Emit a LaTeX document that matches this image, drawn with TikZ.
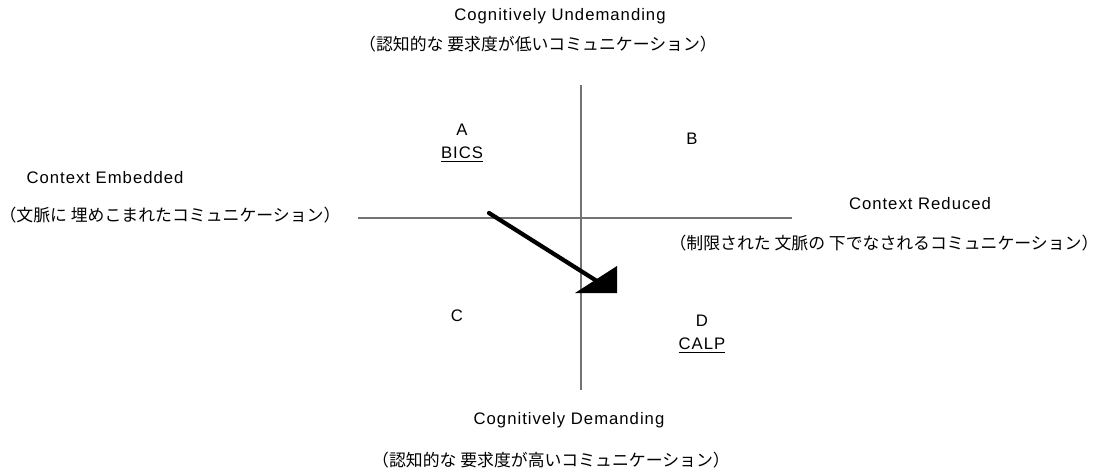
\documentclass[tikz,border=0pt]{standalone}
\usepackage{fontspec}
\setmainfont[LetterSpace=6]{Liberation Sans}
\newfontfamily\jpfont{Noto Sans CJK JP}
\begin{document}
\begin{tikzpicture}[x=0.02cm, y=-0.02cm, every node/.style={font=\fontsize{9.5}{11}\selectfont, inner sep=1pt},
  axis/.style={draw=gray!90!black, line width=0.6pt},
  jp/.style={font=\fontsize{9.6}{11}\selectfont\jpfont},
  quad/.style={font=\fontsize{9.5}{11}\selectfont, align=center}]
  \useasboundingbox (0,0) rectangle (1107,474);
  % axes
  \coordinate (top) at (581,85);
  \coordinate (bot) at (581,390);
  \coordinate (left) at (358,218);
  \coordinate (right) at (792,218);
  \draw[axis] (top) -- (bot);
  \draw[axis] (left) -- (right);
  % axis labels
  \node (undem) at (560,16) {Cognitively Undemanding};
  \node[jp] (undemjp) at (538,44) {（認知的な 要求度が低いコミュニケーション）};
  \node (dem) at (569,420) {Cognitively Demanding};
  \node[jp] (demjp) at (551,460) {（認知的な 要求度が高いコミュニケーション）};
  \node (emb) at (105,178) {Context Embedded};
  \node[jp] (embjp) at (170,215) {（文脈に 埋めこまれたコミュニケーション）};
  \node (red) at (920,204) {Context Reduced};
  \node[jp] (redjp) at (884,243) {（制限された 文脈の 下でなされるコミュニケーション）};
  % quadrants
  \node[quad] (qa) at (462,143) {A\\[2pt]\underline{BICS}};
  \node[quad] (qb) at (692,139) {B};
  \node[quad] (qc) at (457,316) {C};
  \node[quad] (qd) at (702,334) {D\\[2pt]\underline{CALP}};
  % arrow from BICS towards CALP
  \coordinate (from) at (489,213);
  \coordinate (to) at (600,283);
  \coordinate (h1) at (575,293);
  \coordinate (h2) at (617,266);
  \coordinate (h3) at (617,293);
  \draw[line width=2.4pt, line cap=round] (from) -- (to);
  \fill (h1) -- (h2) -- (h3) -- cycle;
\end{tikzpicture}
\end{document}
